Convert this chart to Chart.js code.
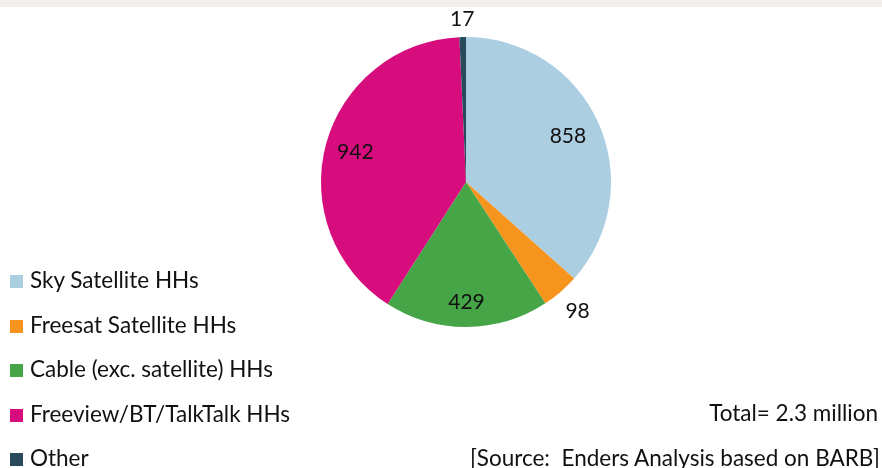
<!DOCTYPE html>
<html>
<head>
<meta charset="utf-8">
<script src="https://cdn.jsdelivr.net/npm/chart.js@4/dist/chart.umd.min.js"></script>
<style>
  body { margin: 0; background: #fff; font-family: Lato, "Open Sans", sans-serif; }
  #wrap { position: relative; width: 882px; height: 468px; overflow: hidden; }
  #topband { position: absolute; left: 0; top: 0; width: 882px; height: 7px; background: #f2eeeb; }
  #pie { position: absolute; left: 0; top: 0; }
  .leg { position: absolute; left: 10px; font-size: 22.5px; color: #111; white-space: nowrap; line-height: 26px; }
  .leg span.sw { display: inline-block; width: 13px; height: 13px; margin-right: 7px; vertical-align: 0px; }
  .note { position: absolute; right: 4px; font-size: 22.5px; color: #111; white-space: nowrap; line-height: 26px; }
</style>
</head>
<body>
<div id="wrap">
  <div id="topband"></div>
  <canvas id="pie" width="882" height="468"></canvas>
  <div id="legend"></div>
  <div class="note" style="top:400px">Total= 2.3 million</div>
  <div class="note" style="top:445px; right:2px">[Source:&nbsp; Enders Analysis based on BARB]</div>
</div>
<script>
const categories = ["Sky Satellite HHs", "Freesat Satellite HHs", "Cable (exc. satellite) HHs", "Freeview/BT/TalkTalk HHs", "Other"];
const households = [858, 98, 429, 942, 17];
const sliceColors = ["#abcee0", "#f7941e", "#46a647", "#d70d7e", "#284a5a"];

// how far out each value label sits, as a share of the radius
const labelRadius = [0.77, 1.18, 0.83, 0.79, 1.12];

// legend on the left
const legendDiv = document.getElementById('legend');
categories.forEach(function(name, i){
    const item = document.createElement('div');
    item.className = 'leg';
    item.style.top = (267 + i * 44.6) + 'px';
    const sw = document.createElement('span');
    sw.className = 'sw';
    sw.style.background = sliceColors[i];
    item.append(sw, document.createTextNode(name));
    legendDiv.append(item);
});

const valueLabels = {
    id: 'valueLabels',
    afterDatasetsDraw(chart) {
        const ctx = chart.ctx;
        const meta = chart.getDatasetMeta(0);
        ctx.save();
        ctx.font = '21px Lato, "Open Sans", sans-serif';
        ctx.fillStyle = '#111';
        ctx.textAlign = 'center';
        ctx.textBaseline = 'middle';
        meta.data.forEach(function(arc, i){
            const p = arc.getProps(['x', 'y', 'startAngle', 'endAngle', 'outerRadius'], true);
            const mid = (p.startAngle + p.endAngle) / 2;
            const r = p.outerRadius * labelRadius[i];
            ctx.fillText(String(households[i]), p.x + Math.cos(mid) * r, p.y + Math.sin(mid) * r);
        });
        ctx.restore();
    }
};

new Chart(document.getElementById('pie'), {
    type: 'pie',
    data: {
        labels: categories,
        datasets: [{
            data: households,
            backgroundColor: sliceColors,
            borderWidth: 0
        }]
    },
    options: {
        responsive: false,
        animation: false,
        layout: { padding: { left: 50, right: 0, top: 37, bottom: 141 } },
        plugins: {
            legend: { display: false },
            tooltip: { enabled: false }
        }
    },
    plugins: [valueLabels]
});
</script>
</body>
</html>
